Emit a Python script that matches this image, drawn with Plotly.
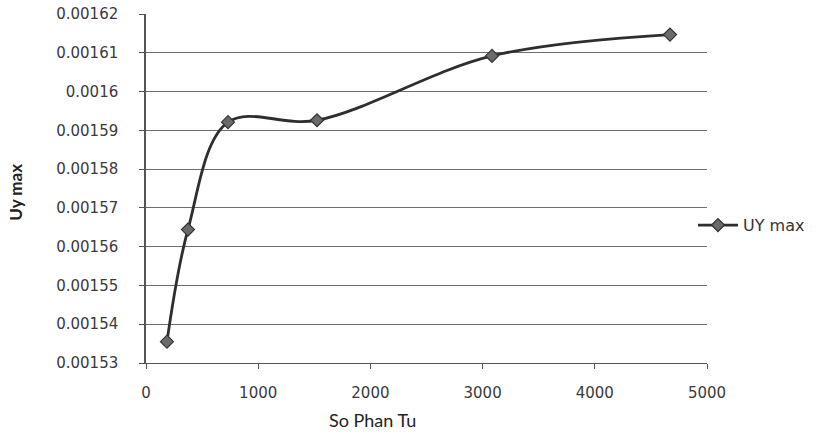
import plotly.graph_objects as go

# Data
so_phan_tu = [187, 374, 731, 1524, 3084, 4670]
uy_max = [0.0015355, 0.0015644, 0.0015921, 0.0015926, 0.0016092, 0.0016147]

y_tick_vals = [0.00153, 0.00154, 0.00155, 0.00156, 0.00157, 0.00158, 0.00159, 0.0016, 0.00161, 0.00162]
y_tick_text = ["0.00153", "0.00154", "0.00155", "0.00156", "0.00157", "0.00158", "0.00159", "0.0016", "0.00161", "0.00162"]
x_tick_vals = [0, 1000, 2000, 3000, 4000, 5000]
x_tick_text = ["0", "1000", "2000", "3000", "4000", "5000"]

series_name = "UY max"
x_title = "So Phan Tu"
y_title = "Uy max"

tick_font = dict(family="DejaVu Sans", size=15, color="#3a3a3a")

fig = go.Figure()
fig.add_trace(go.Scatter(
    x=so_phan_tu, y=uy_max, name=series_name,
    mode="lines+markers",
    line=dict(color="#2e2e2e", width=2.8, shape="spline", smoothing=1.0),
    marker=dict(symbol="diamond", size=10, color="#6a6a6a",
                line=dict(color="#333333", width=1.2)),
))

fig.update_layout(
    width=830, height=436,
    margin=dict(l=146, r=123, t=14, b=73, autoexpand=False),
    paper_bgcolor="white", plot_bgcolor="white",
    showlegend=True,
    legend=dict(x=0.975, y=0.395, xanchor="left", yanchor="middle",
                font=dict(family="DejaVu Sans", size=16, color="#333333"),
                bgcolor="rgba(0,0,0,0)", itemwidth=40),
    annotations=[
        dict(text=y_title, xref="paper", yref="paper", x=-0.232, y=0.49,
             xanchor="center", yanchor="middle", textangle=-90, showarrow=False,
             font=dict(family="Lato", size=17, color="#222222", weight="bold")),
        dict(text=x_title, xref="paper", yref="paper", x=0.403, y=-0.163,
             xanchor="center", yanchor="middle", showarrow=False,
             font=dict(family="Lato", size=18, color="#222222")),
    ],
)

fig.update_xaxes(
    range=[0, 5000], tickvals=x_tick_vals, ticktext=x_tick_text,
    showgrid=False, zeroline=False,
    showline=True, linecolor="#555555", linewidth=1,
    ticks="outside", ticklen=5, tickcolor="#555555",
    tickfont=tick_font, ticklabelstandoff=11,
)
fig.update_yaxes(
    range=[0.00153, 0.00162], tickvals=y_tick_vals, ticktext=y_tick_text,
    showgrid=True, gridcolor="#6e6e6e", gridwidth=1,
    zeroline=False,
    showline=True, linecolor="#555555", linewidth=1.5,
    ticks="outside", ticklen=5, tickcolor="#555555",
    tickfont=tick_font, ticklabelstandoff=18,
)

fig.write_html("out.html")
